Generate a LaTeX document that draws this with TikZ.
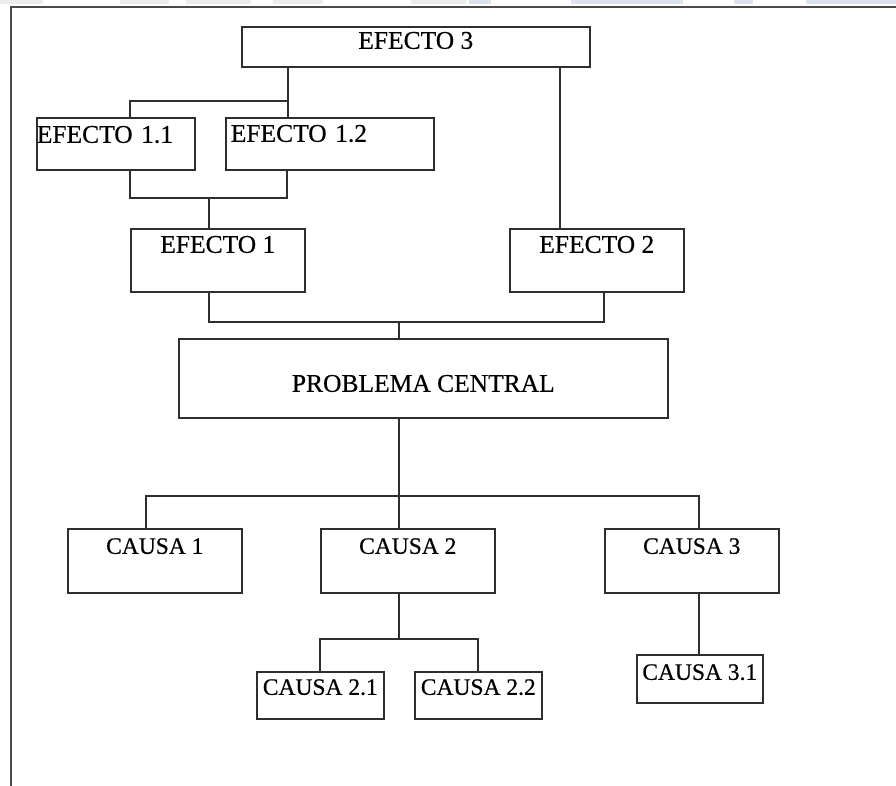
\documentclass[tikz,border=0pt]{standalone}
\usepackage{fontspec}
\setmainfont{Liberation Serif}[FakeBold=0.5]
\usetikzlibrary{positioning}
\definecolor{linecol}{HTML}{2E2E2E}
\definecolor{framecol}{HTML}{4A4A4A}
\definecolor{wmgray}{HTML}{ECECEC}
\definecolor{wmblue}{HTML}{DAE3EF}

\begin{document}
\begin{tikzpicture}[x=1pt,y=-1pt,
		box/.style={draw=linecol, line width=1.6pt, anchor=north west, inner xsep=0pt, inner ysep=0pt},
		efecto/.style={box, font=\fontsize{25.5}{28}\selectfont},
		causa/.style={box, font=\fontsize{23.5}{26}\selectfont},
		leftbox/.style={align=left, text width=#1},
		conn/.style={draw=linecol, line width=1.4pt}]
		\useasboundingbox (0,0) rectangle (896,786);
		% faint strip along the top edge
		\foreach \a/\b in {0/43,120/169,186/251,273/323,411/466}
			\fill[wmgray] (\a,0) rectangle (\b,4);
		\foreach \a/\b in {469/491,571/683,734/753,806/896}
			\fill[wmblue] (\a,0) rectangle (\b,4);
		\draw[framecol, line width=2pt] (11,786) -- (11,7.5) -- (896,7.5);
		%%
		\node[efecto, minimum width=348, text height=22, text depth=18] (e3) at (241,26) {EFECTO 3};
		\node[efecto, leftbox=158, text height=25, text depth=27] (e11) at (36,117) {EFECTO 1.1};
		\node[efecto, leftbox=198, inner xsep=5pt, text height=24, text depth=28] (e12) at (225,117) {EFECTO 1.2};
		\node[efecto, minimum width=174, text height=24, text depth=39] (e1) at (130,228) {EFECTO 1};
		\node[efecto, minimum width=174, text height=24, text depth=39] (e2) at (509,228) {EFECTO 2};
		\node[efecto, minimum width=489, text height=53, text depth=26] (pc) at (178,338) {PROBLEMA CENTRAL};
		%%
		\node[causa, minimum width=174, text height=25, text depth=39] (ca1) at (67,528) {CAUSA 1};
		\node[causa, minimum width=174, text height=25, text depth=39] (ca2) at (320,528) {CAUSA 2};
		\node[causa, minimum width=174, text height=25, text depth=39] (ca3) at (604,528) {CAUSA 3};
		\node[causa, minimum width=127, text height=23, text depth=24] (ca21) at (256,671) {CAUSA 2.1};
		\node[causa, minimum width=127, text height=23, text depth=24] (ca22) at (414,671) {CAUSA 2.2};
		\node[causa, minimum width=126, text height=25, text depth=23] (ca31) at (636,654) {CAUSA 3.1};
		%%
		\coordinate (t1) at (130,101);
		\coordinate (t2) at (288,101);
		\coordinate (r1) at (560,101);
		\coordinate (b1) at (130,198);
		\coordinate (b2) at (287,198);
		\coordinate (b3) at (209,198);
		\coordinate (c1) at (209,322);
		\coordinate (c2) at (604,322);
		\coordinate (c3) at (399,322);
		\coordinate (d1) at (146,496);
		\coordinate (d2) at (399,496);
		\coordinate (d3) at (699,496);
		\coordinate (f1) at (320,639);
		\coordinate (f2) at (399,639);
		\coordinate (f3) at (478,639);
		%%
		\draw[conn] (e3.south -| t2) -- (e12.north -| t2);
		\draw[conn] (t2) -- (t1) -- (e11.north -| t1);
		\draw[conn] (e3.south -| r1) -- (e2.north -| r1);
		\draw[conn] (e11.south -| b1) -- (b1) -- (b2) -- (e12.south -| b2);
		\draw[conn] (b3) -- (e1.north -| b3);
		\draw[conn] (e1.south -| c1) -- (c1) -- (c2) -- (e2.south -| c2);
		\draw[conn] (c3) -- (pc.north -| c3);
		%%
		\draw[conn] (pc.south -| d2) -- (ca2.north -| d2);
		\draw[conn] (ca1.north -| d1) -- (d1) -- (d3) -- (ca3.north -| d3);
		\draw[conn] (ca2.south -| f2) -- (f2);
		\draw[conn] (ca21.north -| f1) -- (f1) -- (f3) -- (ca22.north -| f3);
		\draw[conn] (ca3.south -| d3) -- (ca31.north -| d3);
\end{tikzpicture}
\end{document}
